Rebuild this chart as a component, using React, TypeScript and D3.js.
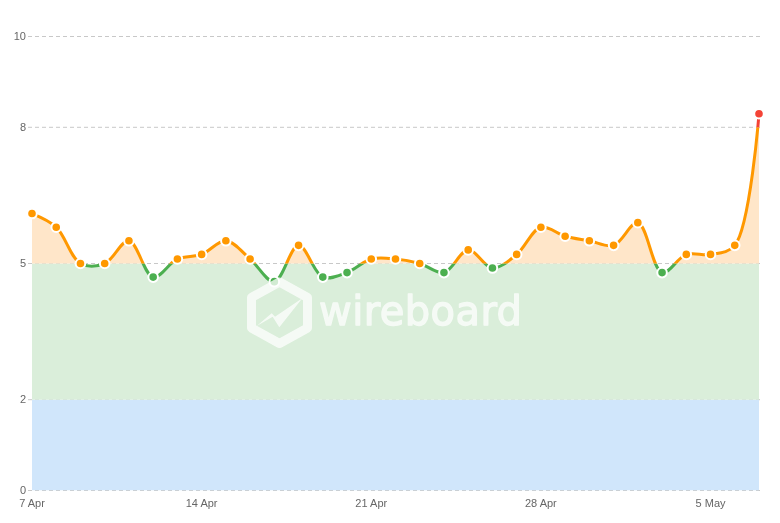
import { useEffect, useRef } from 'react';
import * as d3 from 'd3';

const DAYS = [
  '2024-04-07', '2024-04-08', '2024-04-09', '2024-04-10', '2024-04-11', '2024-04-12', '2024-04-13',
  '2024-04-14', '2024-04-15', '2024-04-16', '2024-04-17', '2024-04-18', '2024-04-19', '2024-04-20',
  '2024-04-21', '2024-04-22', '2024-04-23', '2024-04-24', '2024-04-25', '2024-04-26', '2024-04-27',
  '2024-04-28', '2024-04-29', '2024-04-30', '2024-05-01', '2024-05-02', '2024-05-03', '2024-05-04',
  '2024-05-05', '2024-05-06', '2024-05-07',
];
const VALUES = [
  6.1, 5.8, 5.0, 5.0, 5.5, 4.7, 5.1, 5.2, 5.5, 5.1, 4.6, 5.4, 4.7, 4.8, 5.1, 5.1,
  5.0, 4.8, 5.3, 4.9, 5.2, 5.8, 5.6, 5.5, 5.4, 5.9, 4.8, 5.2, 5.2, 5.4, 8.3,
];
const Y_TICKS = [0, 2, 5, 8, 10];
const X_TICKS = ['2024-04-07', '2024-04-14', '2024-04-21', '2024-04-28', '2024-05-05'];

// zones: [from, to, line colour, fill colour]
const ZONES: [number, number, string, string][] = [
  [0, 2, '#2196f3', '#d0e6fb'],
  [2, 5, '#4caf50', '#daeeda'],
  [5, 8, '#ff9800', '#ffe6c9'],
  [8, 10, '#f44336', '#ffffff'],
];

const parseDay = d3.utcParse('%Y-%m-%d');
const fmtDay = d3.utcFormat('%-d %b');
const days = DAYS.map(d => parseDay(d) as Date);
const points: [Date, number][] = days.map((d, i) => [d, VALUES[i]]);

export default function App() {
  const svgRef = useRef<SVGSVGElement>(null);

  useEffect(() => {
    if (!svgRef.current) return;
    const svg = d3.select(svgRef.current);
    svg.selectAll('*').remove();

    const x = d3.scaleUtc().domain([days[0], days[days.length - 1]]).range([32, 759]);
    const y = d3.scaleLinear().domain([0, 10]).range([490.5, 36.5]);
    const curve = d3.curveCatmullRom.alpha(0.5);

    const area = d3.area<[Date, number]>().x(d => x(d[0])).y0(y(0)).y1(d => y(d[1])).curve(curve);
    const line = d3.line<[Date, number]>().x(d => x(d[0])).y(d => y(d[1])).curve(curve);

    // Grid
    svg.append('g')
      .selectAll('line')
      .data(Y_TICKS)
      .join('line')
      .attr('x1', 28)
      .attr('x2', 762)
      .attr('y1', d => y(d))
      .attr('y2', d => y(d))
      .attr('stroke', '#c8c8c8')
      .attr('stroke-dasharray', '4,3');

    const defs = svg.append('defs');
    defs.append('clipPath').attr('id', 'under').append('path').attr('d', area(points));

    // Identity filter, keeps the tick labels grey instead of LCD-fringed
    defs.append('filter')
      .attr('id', 'grey-text')
      .attr('filterUnits', 'userSpaceOnUse')
      .attr('x', 0).attr('y', 0).attr('width', 780).attr('height', 523)
      .append('feOffset').attr('dx', 0).attr('dy', 0);

    // Filled zones under the curve
    const zones = svg.append('g').attr('clip-path', 'url(#under)');
    ZONES.forEach(z => {
      zones.append('rect')
        .attr('x', x(days[0]))
        .attr('width', x(days[days.length - 1]) - x(days[0]))
        .attr('y', y(z[1]))
        .attr('height', y(z[0]) - y(z[1]))
        .attr('fill', z[3]);
    });

    // Line by zone
    const lines = svg.append('g');
    ZONES.forEach((z, i) => {
      const id = `zone-${i}`;
      defs.append('clipPath').attr('id', id).append('rect')
        .attr('x', 0).attr('width', 780)
        .attr('y', i === ZONES.length - 1 ? 0 : y(z[1]))
        .attr('height', i === ZONES.length - 1 ? y(z[0]) : y(z[0]) - y(z[1]));
      lines.append('path')
        .attr('d', line(points))
        .attr('clip-path', `url(#${id})`)
        .attr('fill', 'none')
        .attr('stroke', z[2])
        .attr('stroke-width', 3);
    });

    // Points
    const colorOf = (v: number) => ZONES.find(z => v < z[1])?.[2] ?? ZONES[3][2];
    svg.append('g')
      .selectAll('circle')
      .data(points)
      .join('circle')
      .attr('cx', d => x(d[0]))
      .attr('cy', d => y(d[1]))
      .attr('r', 4.8)
      .attr('fill', d => colorOf(d[1]))
      .attr('stroke', '#ffffff')
      .attr('stroke-width', 2);

    // Watermark sits on top of the line and points
    const wm = svg.append('g').attr('opacity', 0.75).attr('fill', '#ffffff');
    wm.append('path')
      .attr('fill', 'none')
      .attr('stroke', '#ffffff')
      .attr('stroke-width', 9)
      .attr('stroke-linejoin', 'round')
      .attr('d', 'M279.5,282 L307.5,297.5 L307.5,328 L279.5,343.5 L251.5,328 L251.5,297.5 Z');
    wm.append('path').attr('d', 'M256.7,326 L271.7,313.3 L275,316.7 L302.3,298.3 L279.3,327.3 L272.7,316.7 Z');
    wm.append('text')
      .attr('x', 319)
      .attr('y', 325)
      .attr('font-family', '"DejaVu Sans", sans-serif')
      .attr('font-size', 40)
      .attr('stroke', '#ffffff')
      .attr('stroke-width', 1.3)
      .attr('stroke-linejoin', 'round')
      .attr('textLength', 203)
      .text('wireboard');

    // Tick labels
    const labels = svg.append('g').attr('filter', 'url(#grey-text)');
    labels.append('g')
      .selectAll('text')
      .data(Y_TICKS)
      .join('text')
      .attr('x', 26)
      .attr('y', d => y(d) + 3.5)
      .attr('text-anchor', 'end')
      .attr('font-family', '"Liberation Sans", sans-serif')
      .attr('font-size', 11)
      .attr('fill', '#666666')
      .text(d => d);

    labels.append('g')
      .selectAll('text')
      .data(X_TICKS)
      .join('text')
      .attr('x', d => x(parseDay(d) as Date))
      .attr('y', 507)
      .attr('text-anchor', 'middle')
      .attr('font-family', '"Liberation Sans", sans-serif')
      .attr('font-size', 11)
      .attr('fill', '#666666')
      .text(d => fmtDay(parseDay(d) as Date));
  }, []);

  return (
    <svg
      ref={svgRef}
      width={780}
      height={523}
      style={{ position: 'absolute', left: 0, top: 0, background: '#ffffff' }}
    />
  );
}
